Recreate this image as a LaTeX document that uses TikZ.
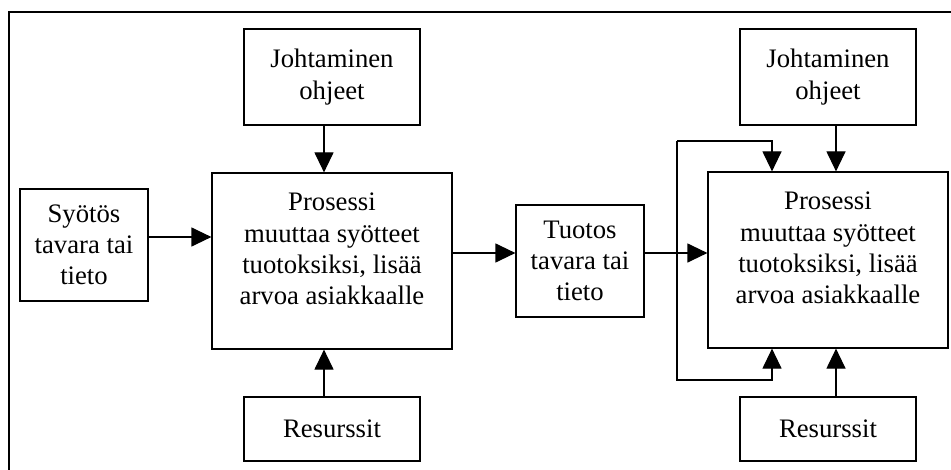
\documentclass[tikz,border=0pt]{standalone}
\usepackage{fontspec}
\setmainfont{Liberation Serif}
\usetikzlibrary{arrows.meta}

\tikzset{
    blk/.style={rectangle, draw, line width=0.6pt, align=center, inner sep=0pt},
    arr/.style={line width=0.6pt, -{Triangle[length=10pt,width=9.5pt]}}
}

\begin{document}
\begin{tikzpicture}[x=0.5pt, y=-0.5pt, font=\fontsize{13.35pt}{15.6pt}\selectfont]
        \useasboundingbox (0,0) rectangle (951,470);
        \draw [line width=0.6pt] (9,470) -- (9,12) -- (951,12);
        % left part
        \node [blk, minimum width=64pt, minimum height=56pt, name=sy] at (84,245) {Syötös\\tavara tai\\tieto};
        \node [blk, minimum width=88pt, minimum height=48pt, name=jo1] at (332,77) {Johtaminen\\ohjeet};
        \node [blk, minimum width=120pt, minimum height=88pt, name=pr1] at (332,261) {};
        \node [align=center, name=pr1txt] at ([yshift=6pt]pr1.center) {Prosessi\\muuttaa syötteet\\tuotoksiksi, lisää\\arvoa asiakkaalle};
        \node [blk, minimum width=88pt, minimum height=32pt, name=re1] at (332,429) {Resurssit};
        % output
        \node [blk, minimum width=64pt, minimum height=56pt, name=tu] at (580,261) {Tuotos\\tavara tai\\tieto};
        % right part
        \node [blk, minimum width=88pt, minimum height=48pt, name=jo2] at (828,77) {Johtaminen\\ohjeet};
        \node [blk, minimum width=120pt, minimum height=88pt, name=pr2] at (828,260) {};
        \node [align=center, name=pr2txt] at ([yshift=6pt]pr2.center) {Prosessi\\muuttaa syötteet\\tuotoksiksi, lisää\\arvoa asiakkaalle};
        \node [blk, minimum width=88pt, minimum height=32pt, name=re2] at (828,429) {Resurssit};
        \coordinate (looptop) at (677,141);
        \coordinate (loopbot) at (677,380);
        \draw [arr] ([yshift=4pt]sy.east) -- ([yshift=4pt]sy.east -| pr1.west);
        \draw [arr] ([xshift=-4pt]jo1.south) -- ([xshift=-4pt]jo1.south |- pr1.north);
        \draw [arr] ([xshift=-4pt]re1.north) -- ([xshift=-4pt]re1.north |- pr1.south);
        \draw [arr] ([yshift=4pt]pr1.east) -- ([yshift=4pt]tu.west);
        \draw [arr] ([yshift=4pt]tu.east) -- ([yshift=4pt]tu.east -| pr2.west);
        \draw [arr] ([xshift=4pt]jo2.south) -- ([xshift=4pt]jo2.south |- pr2.north);
        \draw [arr] ([xshift=4pt]re2.north) -- ([xshift=4pt]re2.north |- pr2.south);
        \draw [arr] (looptop) -| ([xshift=-28pt]pr2.north);
        \draw [arr] (looptop) -- (loopbot) -| ([xshift=-28pt]pr2.south);
    \end{tikzpicture}
\end{document}
